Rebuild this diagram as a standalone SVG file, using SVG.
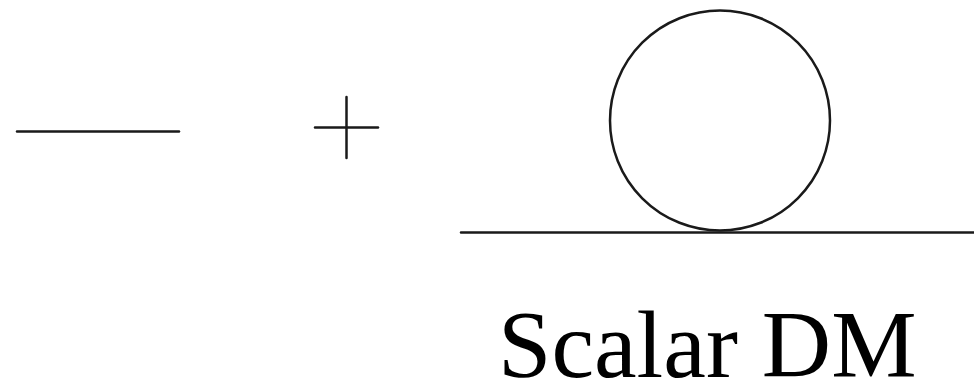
<svg xmlns="http://www.w3.org/2000/svg" width="974" height="385" viewBox="0 0 974 385">
<style>
.ln{stroke:#1a1a1a;stroke-width:2.5;fill:none;stroke-linecap:round}
.lbl{font-family:"Liberation Serif","Times New Roman",serif;font-size:96px;fill:#000}
</style>
<rect width="974" height="385" fill="#fff"/>
<g id="propagator">
<line class="ln" x1="17" y1="131.5" x2="179" y2="131.5"/>
</g>
<g id="plus">
<line class="ln" x1="315" y1="127.5" x2="378" y2="127.5"/>
<line class="ln" x1="346.5" y1="97" x2="346.5" y2="158"/>
</g>
<g id="loop">
<circle class="ln" cx="720" cy="120.5" r="110" stroke-width="2.2"/>
<line class="ln" x1="461" y1="232.5" x2="974" y2="232.5"/>
<text class="lbl" x="498" y="377">Scalar DM</text>
</g>
</svg>
